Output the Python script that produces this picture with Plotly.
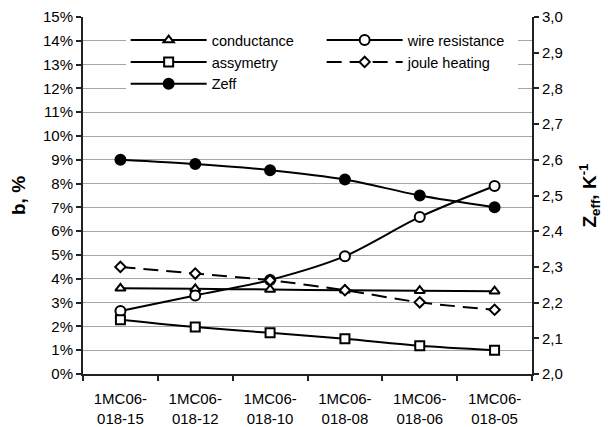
import plotly.graph_objects as go

samples = ["1MC06-<br>018-15", "1MC06-<br>018-12", "1MC06-<br>018-10",
           "1MC06-<br>018-08", "1MC06-<br>018-06", "1MC06-<br>018-05"]

conductance = [3.60, 3.58, 3.55, 3.52, 3.50, 3.48]
wire_resistance = [2.65, 3.30, 3.95, 4.95, 6.60, 7.90]
assymetry = [2.28, 1.97, 1.73, 1.48, 1.19, 1.00]
joule_heating = [4.50, 4.22, 3.94, 3.52, 3.01, 2.70]
zeff = [2.600, 2.588, 2.571, 2.545, 2.500, 2.467]

FONT = "Arial, Liberation Sans, sans-serif"
BLACK = "#000000"
AXIS = "#222222"

fig = go.Figure()


def add_series(name, y, symbol, fill, size=9, dash="solid", axis="y"):
    fig.add_trace(go.Scatter(
        x=samples, y=y, name=name, yaxis=axis,
        mode="lines+markers",
        line=dict(color=BLACK, width=2, dash=dash, shape="spline", smoothing=0.8),
        marker=dict(symbol=symbol, size=size, color=fill,
                    line=dict(color=BLACK, width=2)),
    ))


add_series("conductance", conductance, "triangle-up", "white", size=9)
add_series("wire resistance", wire_resistance, "circle", "white", size=10)
add_series("assymetry", assymetry, "square", "white", size=9)
add_series("joule heating", joule_heating, "diamond", "white", size=8, dash="15px,8px")
add_series("Zeff", zeff, "circle", BLACK, size=10, axis="y2")

fig.update_layout(
    width=608, height=427,
    margin=dict(l=83, r=76, t=17, b=53),
    paper_bgcolor="white", plot_bgcolor="white",
    font=dict(family=FONT, size=15, color=BLACK),
    separators=",.",
    showlegend=True,
    legend=dict(
        x=0.095, y=0.98, xanchor="left", yanchor="top",
        orientation="h", entrywidth=105, entrywidthmode="pixels",
        itemwidth=76, bgcolor="white", borderwidth=0,
        font=dict(family=FONT, size=14.5, color=BLACK),
        traceorder="normal",
    ),
    xaxis=dict(
        type="category", tickson="boundaries", automargin=False,
        ticks="outside", ticklen=5, tickwidth=1.5, tickcolor=AXIS,
        ticklabelstandoff=10,
        showline=True, linecolor=AXIS, linewidth=2,
        showgrid=False, zeroline=False,
        tickfont=dict(family=FONT, size=15, color=BLACK),
        range=[-0.5, 5.5],
    ),
    yaxis=dict(
        range=[0, 15], dtick=1, ticksuffix="%", automargin=False,
        ticks="outside", ticklen=5, tickwidth=1.5, tickcolor=AXIS,
        showline=True, linecolor=AXIS, linewidth=2,
        showgrid=True, gridcolor="#a6a6a6", gridwidth=1, zeroline=False,
        tickfont=dict(family=FONT, size=15, color=BLACK),
        title=dict(text="<b>b, %</b>", font=dict(family=FONT, size=19, color=BLACK),
                   standoff=12),
    ),
    yaxis2=dict(
        overlaying="y", side="right", anchor="x", automargin=False,
        range=[2.0, 3.0], dtick=0.1, tickformat=".1f",
        ticks="outside", ticklen=5, tickwidth=1.5, tickcolor=AXIS,
        showline=True, linecolor=AXIS, linewidth=2,
        showgrid=False, zeroline=False,
        tickfont=dict(family=FONT, size=15, color=BLACK),
        title=dict(text="<b>Z<sub>eff</sub>, K<sup>-1</sup></b>",
                   font=dict(family=FONT, size=19, color=BLACK), standoff=21),
    ),
    # inner half of the crossing tick marks on the right-hand axis
    yaxis3=dict(
        overlaying="y", side="right", anchor="x", automargin=False,
        range=[2.0, 3.0], dtick=0.1,
        ticks="inside", ticklen=5, tickwidth=1.5, tickcolor=AXIS,
        showticklabels=False, showline=False, showgrid=False, zeroline=False,
    ),
)

fig.write_html("out.html")
